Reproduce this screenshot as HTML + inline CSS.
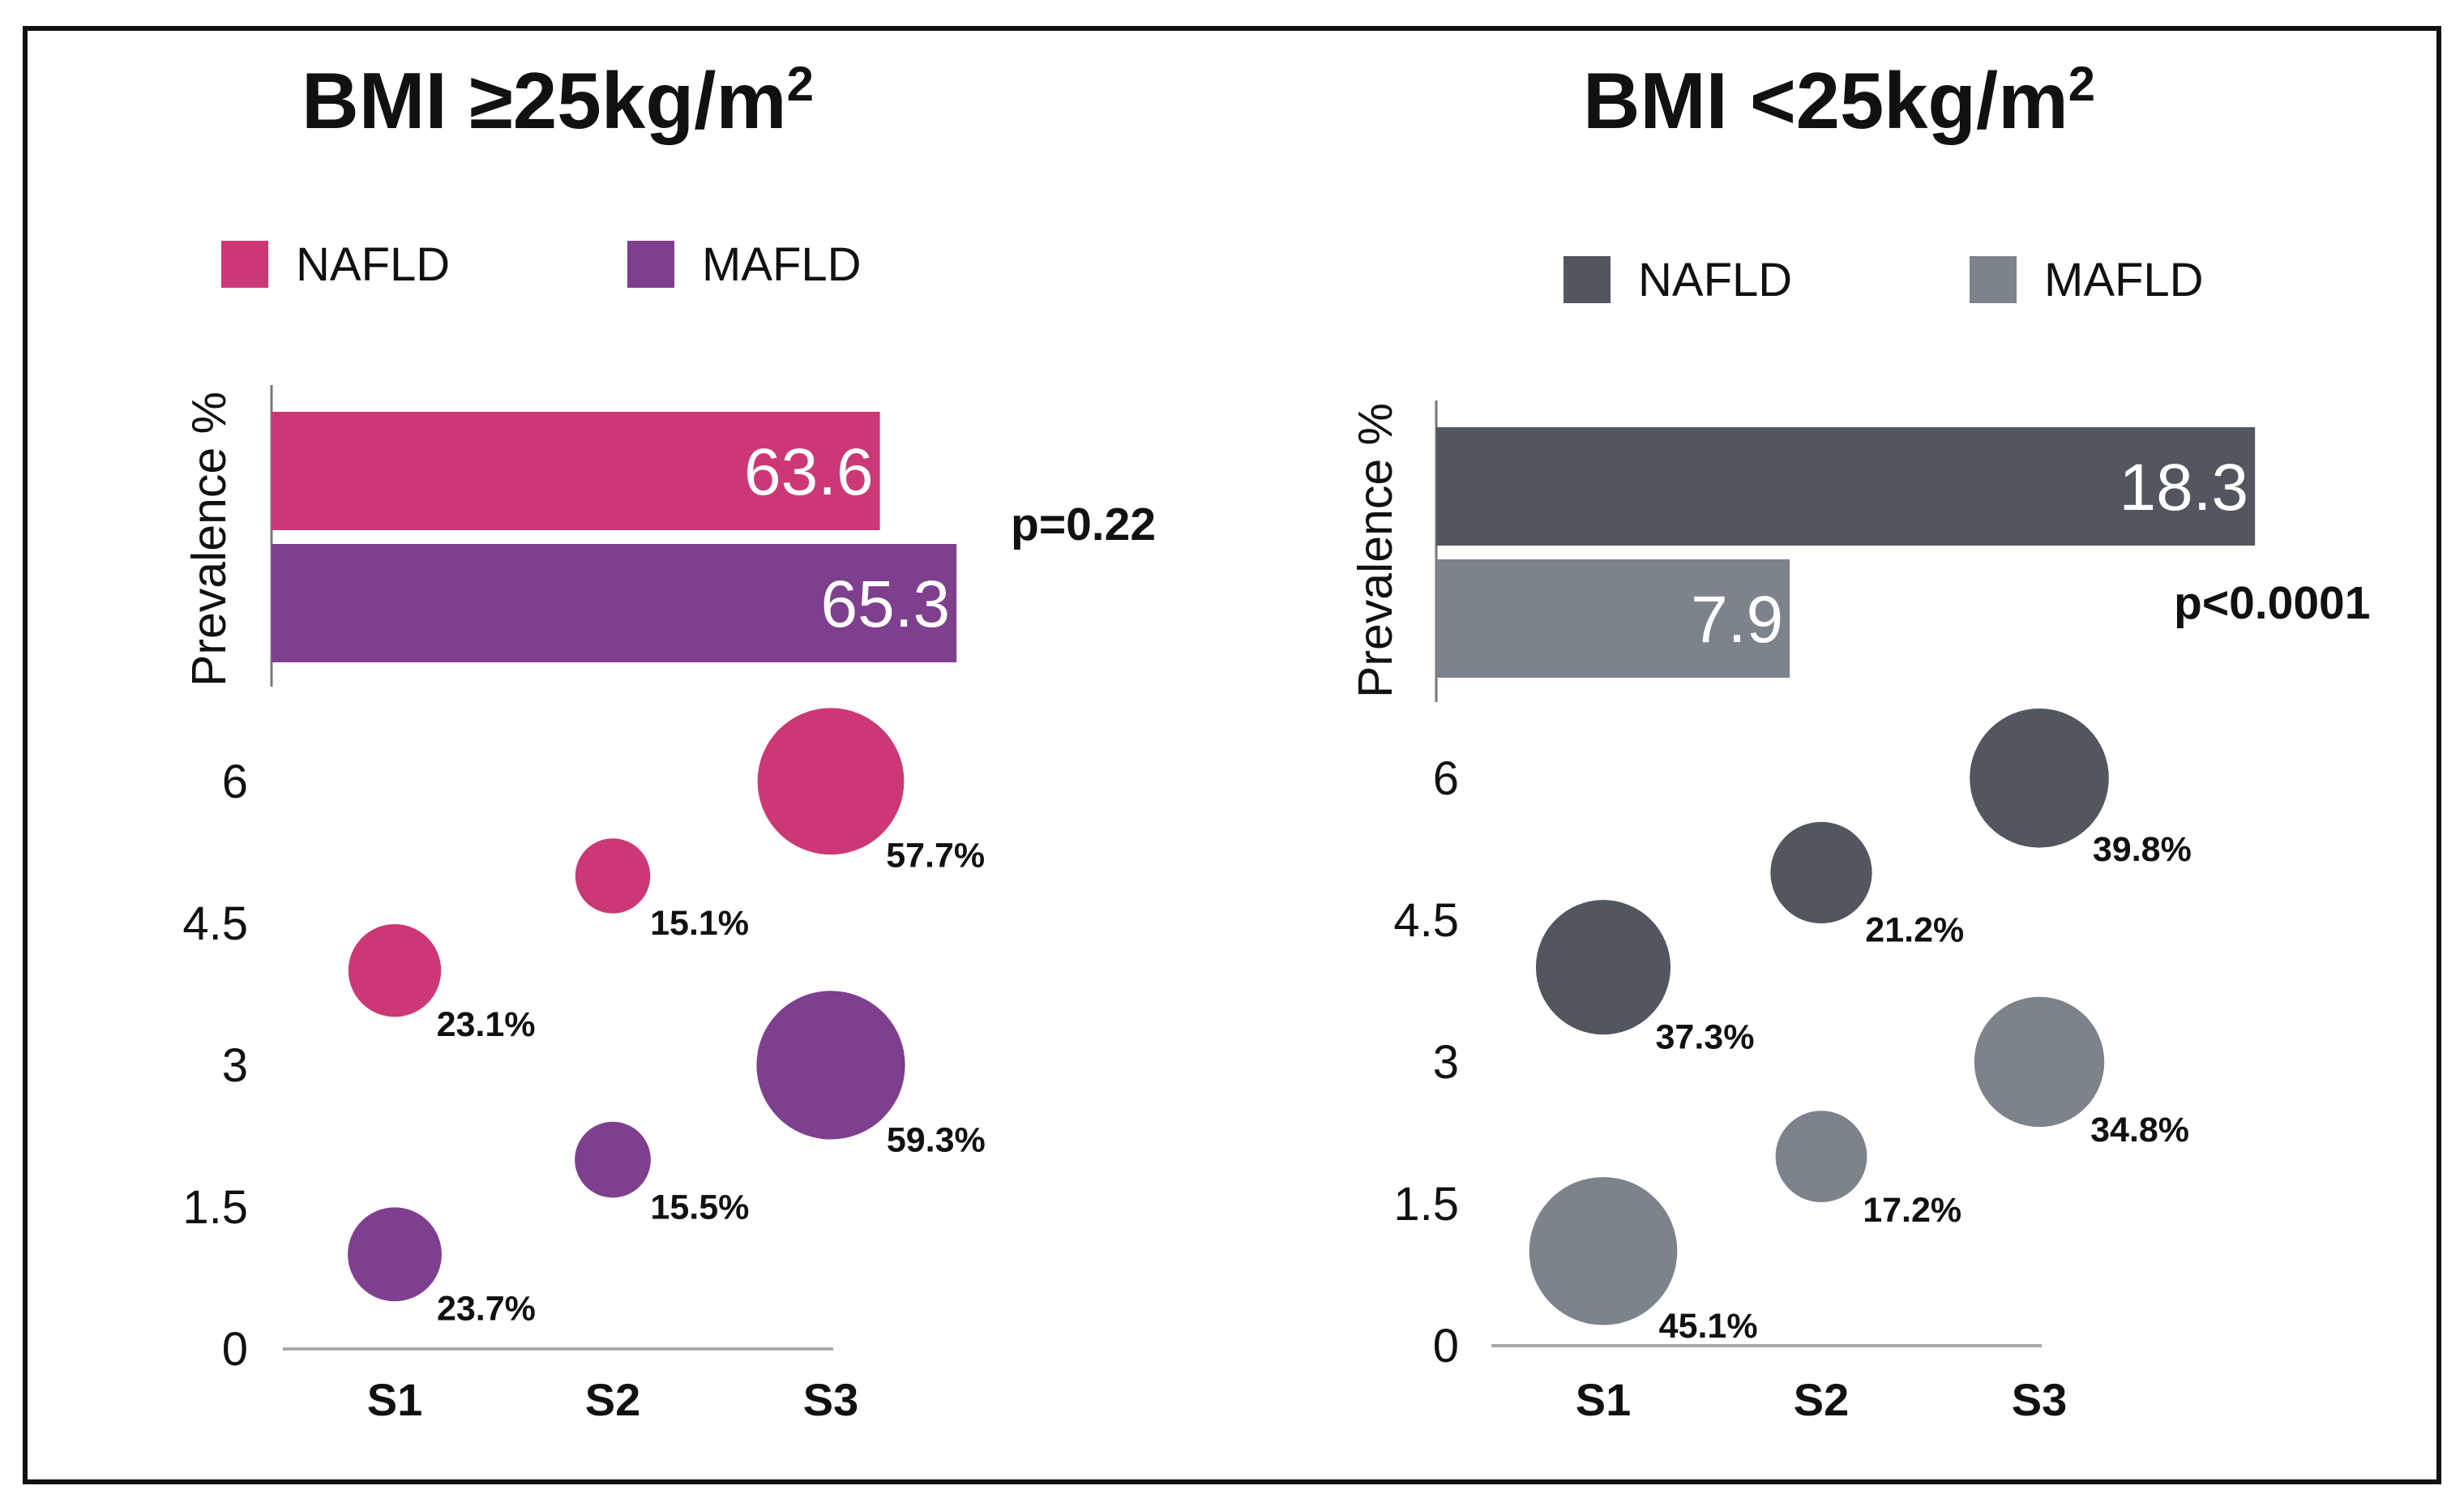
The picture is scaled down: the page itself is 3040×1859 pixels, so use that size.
<!DOCTYPE html>
<html><head><meta charset="utf-8"><style>
html,body{margin:0;padding:0;background:#fff}
svg{display:block}
text{font-family:"Liberation Sans",sans-serif}
</style></head><body>
<svg id="c" width="3040" height="1859" viewBox="0 0 3040 1859" xmlns="http://www.w3.org/2000/svg">
<rect x="31" y="35" width="2978" height="1793" fill="none" stroke="#111" stroke-width="6"/>
</svg>
<script>
// ---- data ----
const groups = ["NAFLD", "MAFLD"];
const leftBarValues = [63.6, 65.3];
const rightBarValues = [18.3, 7.9];
const leftP = "p=0.22";
const rightP = "p<0.0001";
const stages = ["S1", "S2", "S3"];
const yTicks = [0, 1.5, 3, 4.5, 6];
const leftNafldY = [4, 5, 6];
const leftMafldY = [1, 2, 3];
const leftNafldPct = [23.1, 15.1, 57.7];
const leftMafldPct = [23.7, 15.5, 59.3];
const rightNafldY = [4, 5, 6];
const rightMafldY = [1, 2, 3];
const rightNafldPct = [37.3, 21.2, 39.8];
const rightMafldPct = [45.1, 17.2, 34.8];

const NS = "http://www.w3.org/2000/svg";
const svg = document.getElementById('c');
function el(tag, attrs, parent, txt){
  const e = document.createElementNS(NS, tag);
  for (const k in attrs) e.setAttribute(k, attrs[k]);
  if (txt !== undefined) e.textContent = txt;
  (parent || svg).appendChild(e);
  return e;
}

function panel(cfg){
  const g = el('g', {});
  
  
  // title
  const t = el('text', {x: cfg.titleX, y: 158, 'font-size': 98, 'font-weight': 'bold', fill: '#111', textLength: 632, lengthAdjust: 'spacingAndGlyphs'}, g);
  
  
  t.appendChild(document.createTextNode(cfg.title));
  const sup = el('tspan', {'font-size': 60, dy: -34}, t, '2');
  // legend
  groups.forEach((name, i) => {
    const lx = cfg.legX[i];
    const sq = el('rect', {x: lx, y: cfg.legY - 29, width: 58, height: 58, fill: cfg.colors[i]}, g);
    
    
    const lt = el('text', {x: lx + 92, y: cfg.legY + 20, 'font-size': 58, fill: '#111'}, g, name);
    
    
  });
  // bar section
  const ax = el('line', {x1: cfg.axX, x2: cfg.axX, y1: cfg.barAxTop, y2: cfg.barAxTop + 372, stroke: '#777', 'stroke-width': 3}, g);
  
  
  const yl = el('text', {x: 0, y: 0, 'font-size': 59, fill: '#111', 'text-anchor': 'middle', transform: `translate(${cfg.ylabX},${cfg.ylabY}) rotate(-90)`}, g, 'Prevalence %');
  
  
  cfg.barValues.forEach((v, i) => {
    const y = cfg.barTop + i * 163;
    const w = cfg.barW(v);
    const r = el('rect', {x: cfg.axX, y: y, width: w, height: 146, fill: cfg.colors[i]}, g);
    
    
    const vt = el('text', {x: cfg.axX + w - 8, y: y + 102, 'font-size': 82, fill: '#fff', 'text-anchor': 'end'}, g, v.toFixed(1));
    
    
  });
  const pt = el('text', {x: cfg.pX, y: cfg.pY + 20, 'font-size': 57, 'font-weight': 'bold', fill: '#111'}, g, cfg.p);
  
  
  // bubble chart
  const y0 = cfg.y0, unit = 116.7;
  const yS = v => y0 - v * unit;
  const xS = i => cfg.x0 + i * 269;
  yTicks.forEach(tv => {
    const tt = el('text', {x: cfg.tickR, y: yS(tv) + 20, 'font-size': 58, fill: '#111', 'text-anchor': 'end'}, g, String(tv));
    
    
  });
  const xa = el('line', {x1: cfg.x0 - 138, x2: xS(2) + 3, y1: y0, y2: y0, stroke: '#aaa', 'stroke-width': 4}, g);
  
  
  stages.forEach((s, i) => {
    const st = el('text', {x: xS(i), y: 1746, 'font-size': 56, 'font-weight': 'bold', fill: '#111', 'text-anchor': 'middle'}, g, s);
    
    
  });
  [[cfg.nY, cfg.nPct, 0], [cfg.mY, cfg.mPct, 1]].forEach(([ys, ps, gi]) => {
    ys.forEach((yv, i) => {
      const cx = xS(i), cy = yS(yv), r = cfg.k * Math.sqrt(ps[i]);
      const c = el('circle', {cx: cx, cy: cy, r: r, fill: cfg.colors[gi]}, g);
      
      
      const lt = el('text', {x: cx + 0.5 * r + 23, y: cy + 0.75 * r + 23 + 15, 'font-size': 43, 'font-weight': 'bold', fill: '#111'}, g, ps[i].toFixed(1) + '%');
      
      
    });
  });
}

panel({
  name: 'panel-bmi-high', title: 'BMI \u226525kg/m', titleX: 372,
  colors: ['#cc3876', '#7f3f8f'], legX: [273, 774], legY: 326,
  axX: 335, barAxTop: 475, barTop: 508,
  barValues: leftBarValues,
  barW: v => (v - 50.1) * 55.6,
  ylabX: 278, ylabY: 665,
  p: leftP, pX: 1247, pY: 646,
  y0: 1664, x0: 487, tickR: 306, k: 11.9,
  nY: leftNafldY, nPct: leftNafldPct, mY: leftMafldY, mPct: leftMafldPct
});
panel({
  name: 'panel-bmi-low', title: 'BMI <25kg/m', titleX: 1953,
  colors: ['#52565e', '#7c838b'], legX: [1929, 2430], legY: 345,
  axX: 1772, barAxTop: 494, barTop: 527,
  barValues: rightBarValues,
  barW: v => v * 55.2,
  ylabX: 1717, ylabY: 679,
  p: rightP, pX: 2682, pY: 743,
  y0: 1660, x0: 1978, tickR: 1800, k: 13.6,
  nY: rightNafldY, nPct: rightNafldPct, mY: rightMafldY, mPct: rightMafldPct
});
</script>
</body></html>
